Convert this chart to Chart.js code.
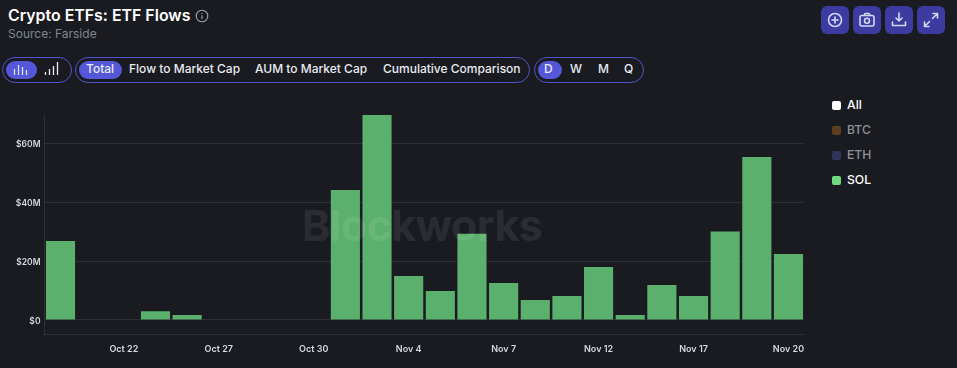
<!DOCTYPE html>
<html>
<head>
<meta charset="utf-8">
<script src="https://cdn.jsdelivr.net/npm/chart.js@4"></script>
<style>
html, body { margin: 0; padding: 0; background: #1a1b20; }
body { width: 957px; height: 368px; position: relative; overflow: hidden; font-family: Inter, sans-serif; color: #fff; }
.abs { position: absolute; white-space: nowrap; }
#title { left: 8px; top: 6px; font-size: 15.9px; line-height: 20px; font-weight: 600; color: #fff; }
#source { left: 8px; top: 26px; font-size: 12px; line-height: 16px; color: #7f8791; }
.pill { position: absolute; top: 57px; height: 24px; border: 1px solid #4f55c9; border-radius: 13px; box-sizing: content-box; }
.on { position: absolute; top: 3px; height: 18px; background: #5458d8; border-radius: 9px; }
.lbl { position: absolute; top: 60px; font-size: 12px; line-height: 18px; font-weight: 500; color: #e8ebf2; white-space: nowrap; }
.btn { position: absolute; top: 6px; width: 28px; height: 28px; border-radius: 6px; background: #3b3ba0; }
.btn svg { position: absolute; left: 4px; top: 4px; }
.sw { position: absolute; left: 832px; width: 9px; height: 9px; border-radius: 2px; }
.leg { position: absolute; left: 847px; font-size: 12.2px; line-height: 16px; font-weight: 500; }
#chartBox { position: absolute; left: 0; top: 100px; width: 810px; height: 268px; }
#mark { left: 302px; top: 199px; font-size: 43px; line-height: 52px; font-weight: 700; letter-spacing: -0.6px; color: rgba(255,255,255,0.08); pointer-events: none; }
</style>
</head>
<body>
<div class="abs" id="title">Crypto ETFs: ETF Flows</div>
<svg class="abs" style="left:195px;top:9px" width="14" height="14" viewBox="0 0 14 14" fill="none" stroke="#a0a4ab" stroke-width="1.1"><circle cx="7" cy="7" r="5.8"/><path d="M7 6.3v3.6M7 4v1"/></svg>
<div class="abs" id="source">Source: Farside</div>

<div class="pill" style="left:2px;width:68px"><div class="on" style="left:3px;width:31px"></div></div>
<svg class="abs" style="left:13px;top:62px" width="46" height="15" fill="none" stroke-width="1.3">
  <path stroke="#dfe1f7" d="M1.500 13V7M5.500 13V3M9.500 13V5M13.500 13V8"/>
  <path stroke="#e8ebf2" d="M32.500 13V10M36.500 13V7M40.500 13V4M44.500 13V0"/>
</svg>
<div class="pill" style="left:75px;width:453px"><div class="on" style="left:3px;width:43px"></div></div>
<div class="pill" style="left:534px;width:108px"><div class="on" style="left:3px;width:24px"></div></div>
<div id="labels"></div>
<div id="buttons"></div>
<div id="legend"></div>

<div id="chartBox"><canvas id="myChart"></canvas></div>
<div class="abs" id="mark">Blockworks</div>

<script>
const dates = ["Oct 20", "Oct 21", "Oct 22", "Oct 23", "Oct 24", "Oct 27", "Oct 28", "Oct 29", "Oct 30", "Oct 31",
  "Nov 3", "Nov 4", "Nov 5", "Nov 6", "Nov 7", "Nov 10", "Nov 11", "Nov 12", "Nov 13", "Nov 14",
  "Nov 17", "Nov 18", "Nov 19", "Nov 20"];
const solFlows = [26.8, 0, 0, 3.0, 1.7, 0, 0, 0, 0, 44.1,
  69.5, 14.9, 9.8, 29.2, 12.5, 6.8, 8.1, 18.0, 1.7, 11.9,
  8.1, 30.0, 55.3, 22.4];
const yTicks = [0, 20, 40, 60];
const legendNames = ["All", "BTC", "ETH", "SOL"];
const legendColors = ["#ffffff", "#5a3f22", "#2e3558", "#6fdc82"];
const legendText = ["#ffffff", "#8b929b", "#8b929b", "#ffffff"];
const tabs = [["Total", 86], ["Flow to Market Cap", 129], ["AUM to Market Cap", 255], ["Cumulative Comparison", 383],
  ["D", 544], ["W", 570], ["M", 598], ["Q", 624]];

// header pills, toolbar and legend are plain html
let labelHtml = "";
for (const t of tabs) {
  labelHtml += '<div class="lbl" style="left:' + t[1] + 'px">' + t[0] + '</div>';
}
document.getElementById("labels").innerHTML = labelHtml;

const s = 'fill="none" stroke="#d5d6f2" stroke-width="1.6" stroke-linecap="round" stroke-linejoin="round"';
const icons = [
  '<circle cx="10" cy="10" r="6.5"/><path d="M10 7v6M7 10h6"/>',
  '<rect x="3" y="5.500" width="14" height="10.500" rx="2"/><path d="M7 5.500l1-2h4l1 2"/><circle cx="10" cy="10.700" r="2.500"/>',
  '<path d="M10 3v8M7 8l3 3 3-3M3.500 12v3.500h13V12"/>',
  '<path d="M11.500 8.500L16 4M12 3.500h4.500V8M8.500 11.500L4 16M3.500 12v4.500H8"/>'
];
const btnX = [821, 853, 885, 917];
let btnHtml = "";
icons.forEach((ic, i) => {
  btnHtml += '<div class="btn" style="left:' + btnX[i] + 'px"><svg width="20" height="20" ' + s + '>' + ic + '</svg></div>';
});
document.getElementById("buttons").innerHTML = btnHtml;

let legHtml = "";
legendNames.forEach((n, i) => {
  const y = 105 + i * 25;
  legHtml += '<div class="sw" style="top:' + (y - 4.5) + 'px;background:' + legendColors[i] + '"></div>';
  legHtml += '<div class="leg" style="top:' + (y - 8) + 'px;color:' + legendText[i] + '">' + n + '</div>';
});
document.getElementById("legend").innerHTML = legHtml;

const gridColor = "rgba(255,255,255,0.09)";

new Chart("myChart", {
  type: "bar",
  data: {
    labels: dates,
    datasets: [{
      label: "SOL",
      data: solFlows,
      backgroundColor: "#5cb06d",
      categoryPercentage: 1,
      barPercentage: 0.92
    }]
  },
  options: {
    responsive: true,
    maintainAspectRatio: false,
    animation: false,
    layout: {padding: {top: 15, right: 5.7, left: 0, bottom: 0}},
    plugins: {legend: {display: false}, tooltip: {enabled: false}},
    scales: {
      x: {
        grid: {display: false},
        border: {color: gridColor},
        afterFit: (scale) => {
          scale.height = 34;
          // first and last bars sit flush with the plot edges in the reference
          scale.paddingLeft = 0;
          scale.paddingRight = 0;
        },
        ticks: {
          autoSkip: false,
          maxRotation: 0,
          padding: 2,
          color: "#d4d8de",
          font: {family: "Inter", size: 9, weight: "600"},
          callback: function(value, index) {
            return index % 3 === 2 ? dates[index] : "";
          }
        }
      },
      y: {
        min: -4.75,
        max: 69.5,
        afterBuildTicks: (scale) => { scale.ticks = yTicks.map(v => ({value: v})); },
        afterFit: (scale) => { scale.width = 44.7; scale.paddingTop = 0; scale.paddingBottom = 0; },
        grid: {color: gridColor, drawTicks: false},
        border: {color: gridColor},
        ticks: {
          padding: 4.2,
          labelOffset: 1,
          color: "#d4d8de",
          font: {family: "Inter", size: 8.5, weight: "600"},
          callback: (v) => "$" + v + (v === 0 ? "" : "M")
        }
      }
    }
  }
});
</script>
</body>
</html>
